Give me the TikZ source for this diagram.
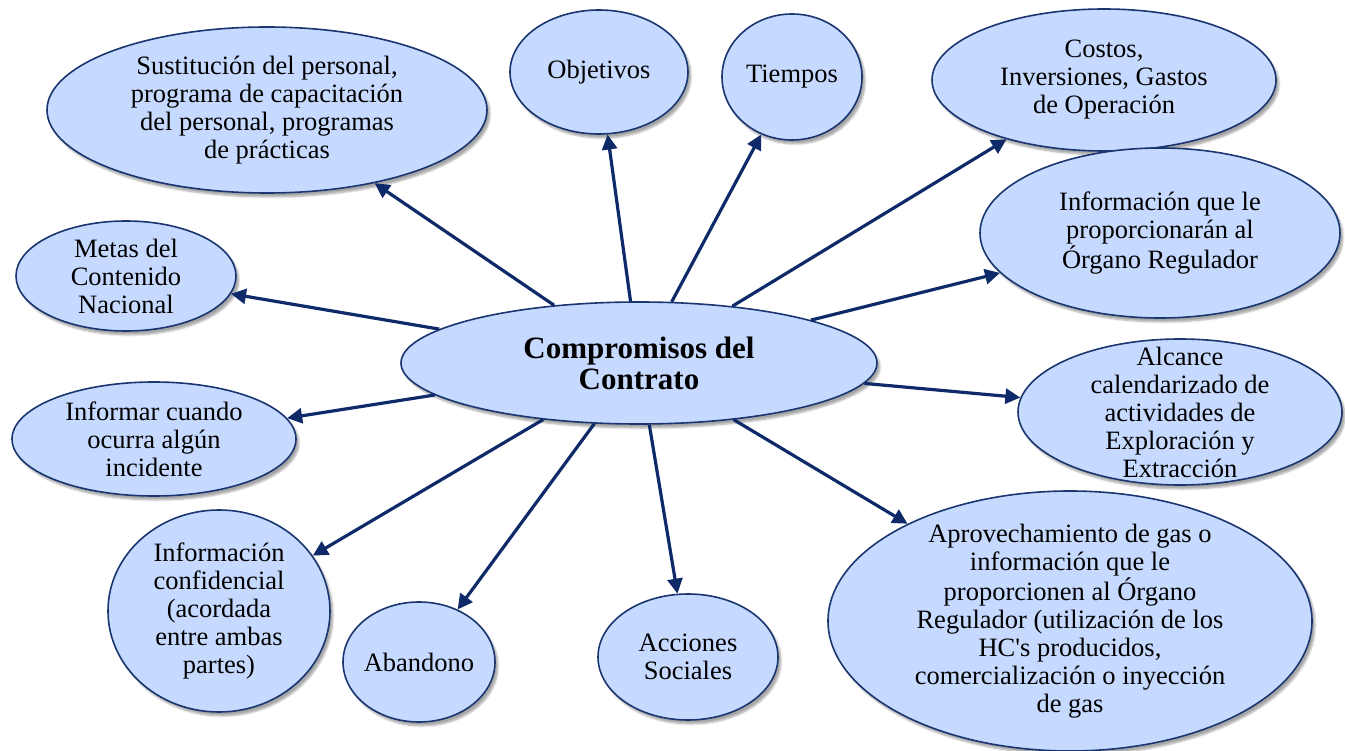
\documentclass[tikz,border=0pt]{standalone}
\usepackage{fontspec}
\setmainfont{Liberation Serif}
\usetikzlibrary{shapes.geometric,arrows.meta,shadows.blur}
\definecolor{bubfill}{HTML}{C6D9FF}
\definecolor{bubline}{HTML}{1A3670}
\definecolor{arrowc}{HTML}{0E2A68}
\tikzset{
  bub/.style={ellipse, draw=bubline, line width=1.6pt, fill=bubfill, inner sep=-4pt,
    align=center, font=\fontsize{26.5}{28}\selectfont,
    blur shadow={shadow xshift=3pt, shadow yshift=-4pt, shadow blur steps=6, shadow opacity=35}},
  conn/.style={draw=arrowc, line width=3.2pt, -{Triangle[length=15pt,width=15pt]}},
}
\begin{document}
\begin{tikzpicture}[x=1pt,y=-1pt]
\useasboundingbox (0,0) rectangle (1345,751);
\node[bub, minimum width=440pt, minimum height=166pt] (n1) at (267,110)
  {Sustitución del personal,\\programa de capacitación\\del personal, programas\\de prácticas};
\node[bub, minimum width=178pt, minimum height=124pt] (n2) at (599,72) {Objetivos};
\node[bub, minimum width=140pt, minimum height=126pt] (n3) at (792,77) {Tiempos};
\node[bub, minimum width=344pt, minimum height=142pt] (n4) at (1104,80)
  {Costos,\\Inversiones, Gastos\\de Operación};
\node[bub, minimum width=360pt, minimum height=170pt] (n5) at (1160,233)
  {Información que le\\proporcionarán al\\Órgano Regulador};
\node[bub, minimum width=220pt, minimum height=110pt] (n6) at (126,276)
  {Metas del\\Contenido\\Nacional};
\node[bub, minimum width=476pt, minimum height=122pt,
  font=\fontsize{31}{31}\selectfont\bfseries] (c) at (639,363)
  {Compromisos del\\Contrato};
\node[bub, minimum width=324pt, minimum height=146pt, inner ysep=-18pt] (n8) at (1180,412)
  {Alcance\\calendarizado de\\actividades de\\Exploración y\\Extracción};
\node[bub, minimum width=284pt, minimum height=114pt] (n9) at (154,439)
  {Informar cuando\\ocurra algún\\incidente};
\node[bub, minimum width=222pt, minimum height=202pt] (n10) at (219,611)
  {Información\\confidencial\\(acordada\\entre ambas\\partes)};
\node[bub, minimum width=152pt, minimum height=120pt] (n11) at (419,662) {Abandono};
\node[bub, minimum width=180pt, minimum height=126pt] (n12) at (688,657)
  {Acciones\\Sociales};
\node[bub, minimum width=484pt, minimum height=260pt, inner ysep=-14pt] (n13) at (1070,621)
  {Aprovechamiento de gas o\\información que le\\proporcionen al Órgano\\Regulador (utilización de los\\HC\textquotesingle s producidos,\\comercialización o inyección\\de gas};
\foreach \t in {n1,n2,n3,n4,n5,n6,n8,n9,n10,n11,n12,n13}
  \draw[conn] (c) -- (\t);
\end{tikzpicture}
\end{document}
